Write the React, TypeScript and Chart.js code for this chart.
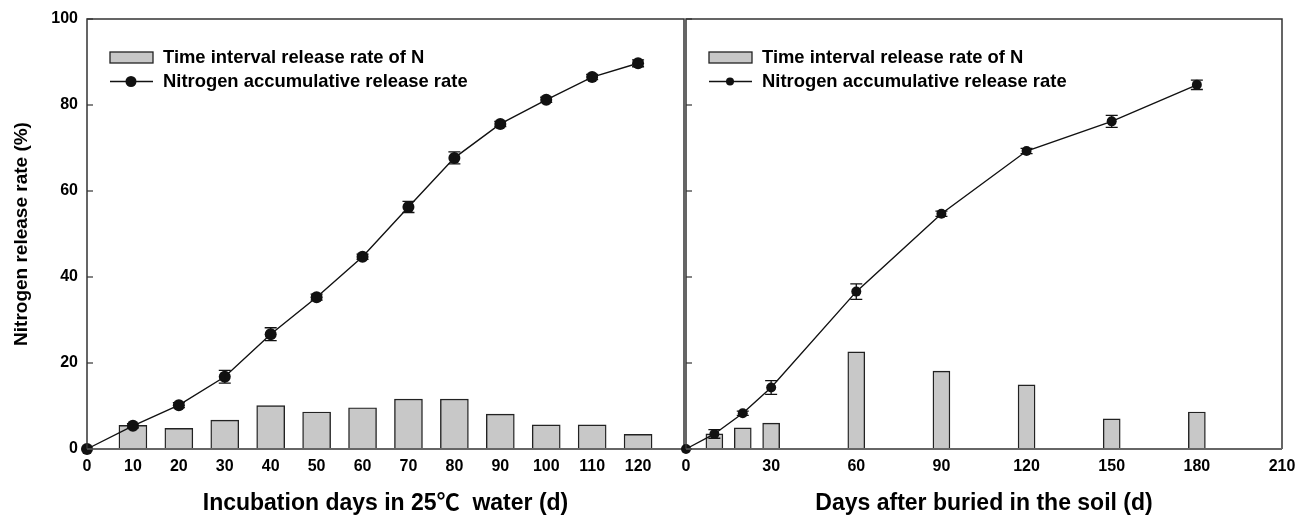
import React, { useEffect, useRef } from "react";
import { Chart, registerables } from "chart.js";

Chart.register(...registerables);

// ---- Data ----
const waterDays = [0, 10, 20, 30, 40, 50, 60, 70, 80, 90, 100, 110, 120];
const waterCumulative = [0, 5.4, 10.2, 16.8, 26.7, 35.3, 44.7, 56.3, 67.7, 75.6, 81.2, 86.5, 89.7];
const waterCumError = [0, 0.5, 0.6, 1.5, 1.5, 0.7, 0.6, 1.3, 1.4, 0.6, 0.6, 0.6, 0.8];
const waterIntervalDays = [10, 20, 30, 40, 50, 60, 70, 80, 90, 100, 110, 120];
const waterInterval = [5.5, 4.8, 6.7, 10.1, 8.6, 9.6, 11.6, 11.6, 8.1, 5.6, 5.6, 3.4];

const soilDays = [0, 10, 20, 30, 60, 90, 120, 150, 180];
const soilCumulative = [0, 3.5, 8.3, 14.3, 36.6, 54.7, 69.3, 76.2, 84.7];
const soilCumError = [0, 1.0, 0.5, 1.6, 1.8, 0.6, 0.6, 1.4, 1.1];
const soilIntervalDays = [10, 20, 30, 60, 90, 120, 150, 180];
const soilInterval = [3.5, 4.9, 6.0, 22.6, 18.1, 14.9, 7.0, 8.6];

const legendLabels = ["Time interval release rate of N", "Nitrogen accumulative release rate"];
const xTitles = ["Incubation days in 25\u2103  water (d)", "Days after buried in the soil (d)"];
const yTitle = "Nitrogen release rate (%)";

const FONT = "'Liberation Sans', Arial, Helvetica, 'Noto Sans CJK SC', sans-serif";
const W = 1295;
const H = 517;

type Panel = {
  days: number[];
  cum: number[];
  err: number[];
  ivDays: number[];
  iv: number[];
  xMax: number;
  xStep: number;
  xLabelMax: number;
  xTitle: string;
  showY: boolean;
  plotLeft: number;
  plotRight: number;
  barThickness: number;
  pointRadius: number;
  legendRadius: number;
};

const panels: Panel[] = [
  {
    days: waterDays, cum: waterCumulative, err: waterCumError,
    ivDays: waterIntervalDays, iv: waterInterval,
    xMax: 130, xStep: 10, xLabelMax: 120, xTitle: xTitles[0], showY: true,
    plotLeft: 87, plotRight: 684, barThickness: 28, pointRadius: 6, legendRadius: 5.5,
  },
  {
    days: soilDays, cum: soilCumulative, err: soilCumError,
    ivDays: soilIntervalDays, iv: soilInterval,
    xMax: 210, xStep: 30, xLabelMax: 210, xTitle: xTitles[1], showY: false,
    plotLeft: 686, plotRight: 1282, barThickness: 17, pointRadius: 5, legendRadius: 4,
  },
];

function makeOverlay(p: Panel) {
  return {
    id: "overlay",
    afterDatasetsDraw(chart: any) {
      const ctx: CanvasRenderingContext2D = chart.ctx;
      const { left, right, top, bottom } = chart.chartArea;
      const xs = chart.scales.x;
      const ys = chart.scales.y;
      ctx.save();
      // error bars
      ctx.strokeStyle = "#111";
      ctx.lineWidth = 1.3;
      const cap = 6;
      p.days.forEach((d, i) => {
        const e = p.err[i];
        if (!e) return;
        const px = xs.getPixelForValue(d);
        const y1 = ys.getPixelForValue(p.cum[i] + e);
        const y2 = ys.getPixelForValue(p.cum[i] - e);
        ctx.beginPath();
        ctx.moveTo(px, y1);
        ctx.lineTo(px, y2);
        ctx.moveTo(px - cap, y1);
        ctx.lineTo(px + cap, y1);
        ctx.moveTo(px - cap, y2);
        ctx.lineTo(px + cap, y2);
        ctx.stroke();
      });
      // frame
      ctx.strokeStyle = "#333";
      ctx.lineWidth = 1.5;
      ctx.beginPath();
      ctx.moveTo(left, bottom);
      ctx.lineTo(left, top);
      ctx.lineTo(right, top);
      ctx.lineTo(right, bottom);
      ctx.stroke();
      ctx.strokeStyle = "#666";
      ctx.lineWidth = 2;
      ctx.beginPath();
      ctx.moveTo(left, bottom);
      ctx.lineTo(right, bottom);
      ctx.stroke();
      // inward y ticks
      ctx.strokeStyle = "#333";
      ctx.lineWidth = 1.2;
      ys.ticks.forEach((t: any) => {
        const py = ys.getPixelForValue(t.value);
        ctx.beginPath();
        ctx.moveTo(left, py);
        ctx.lineTo(left + 6, py);
        ctx.stroke();
      });
      // legend
      const bx = left + 23;
      const tx = left + 76;
      ctx.fillStyle = "#c8c8c8";
      ctx.fillRect(bx, 52, 43, 11);
      ctx.strokeStyle = "#222";
      ctx.lineWidth = 1.3;
      ctx.strokeRect(bx, 52, 43, 11);
      ctx.strokeStyle = "#111";
      ctx.lineWidth = 1.4;
      ctx.beginPath();
      ctx.moveTo(bx, 81.5);
      ctx.lineTo(bx + 43, 81.5);
      ctx.stroke();
      ctx.fillStyle = "#111";
      ctx.beginPath();
      ctx.arc(bx + 21, 81.5, p.legendRadius, 0, Math.PI * 2);
      ctx.fill();
      ctx.fillStyle = "#000";
      ctx.font = `bold 18.4px ${FONT}`;
      ctx.textBaseline = "middle";
      ctx.textAlign = "left";
      ctx.fillText(legendLabels[0], tx, 58);
      ctx.fillText(legendLabels[1], tx, 82);
      ctx.restore();
    },
  };
}

function PanelChart({ p }: { p: Panel }) {
  const ref = useRef<HTMLCanvasElement | null>(null);
  useEffect(() => {
    if (!ref.current) return;
    const tickFont = { family: FONT, size: 16, weight: "bold" as const };
    const chart = new Chart(ref.current, {
      type: "bar",
      data: {
        datasets: [
          {
            type: "line",
            label: legendLabels[1],
            data: p.days.map((d, i) => ({ x: d, y: p.cum[i] })),
            borderColor: "#111",
            borderWidth: 1.4,
            pointRadius: p.pointRadius,
            pointBackgroundColor: "#111",
            pointBorderColor: "#111",
            pointBorderWidth: 0,
            tension: 0,
            clip: false,
            order: 0,
          } as any,
          {
            type: "bar",
            label: legendLabels[0],
            data: p.ivDays.map((d, i) => ({ x: d, y: p.iv[i] })),
            backgroundColor: "#c8c8c8",
            borderColor: "#222",
            borderWidth: 1.4,
            borderSkipped: false,
            barThickness: p.barThickness,
            order: 1,
          } as any,
        ],
      },
      options: {
        responsive: false,
        animation: false,
        devicePixelRatio: 1,
        layout: { padding: { left: 0, top: 19, right: W - p.plotRight, bottom: 0 } },
        plugins: { legend: { display: false }, tooltip: { enabled: false } },
        scales: {
          x: {
            type: "linear",
            min: 0,
            max: p.xMax,
            offset: false,
            grid: { display: false, drawTicks: false },
            border: { display: false },
            ticks: {
              stepSize: p.xStep,
              padding: 8,
              font: tickFont,
              color: "#000",
              maxRotation: 0,
              autoSkip: false,
              callback: (v: any) => (Number(v) > p.xLabelMax ? "" : String(v)),
            },
            title: {
              display: true,
              text: p.xTitle,
              color: "#000",
              font: { family: FONT, size: 23, weight: "bold" },
              padding: { top: 0, bottom: 0 },
            },
            afterFit: (s: any) => {
              s.height = 68;
              s.paddingLeft = 0;
              s.paddingRight = 0;
            },
          },
          y: {
            type: "linear",
            min: 0,
            max: 100,
            grid: { display: false, drawTicks: false },
            border: { display: false },
            ticks: {
              display: p.showY,
              stepSize: 20,
              padding: 9,
              font: tickFont,
              color: "#000",
            },
            title: {
              display: p.showY,
              text: yTitle,
              color: "#000",
              font: { family: FONT, size: 19, weight: "bold" },
              padding: { top: 10, bottom: 0 },
            },
            afterFit: (s: any) => {
              s.width = p.plotLeft;
              s.paddingTop = 0;
              s.paddingBottom = 0;
            },
          },
        },
      } as any,
      plugins: [makeOverlay(p)],
    });
    return () => chart.destroy();
  }, [p]);
  return (
    <canvas
      ref={ref}
      width={W}
      height={H}
      style={{ position: "absolute", left: 0, top: 0, width: W, height: H }}
    />
  );
}

export default function App() {
  return (
    <div style={{ position: "absolute", left: 0, top: 0, width: W, height: H, background: "#fff" }}>
      {panels.map((p, i) => (
        <PanelChart key={i} p={p} />
      ))}
    </div>
  );
}
